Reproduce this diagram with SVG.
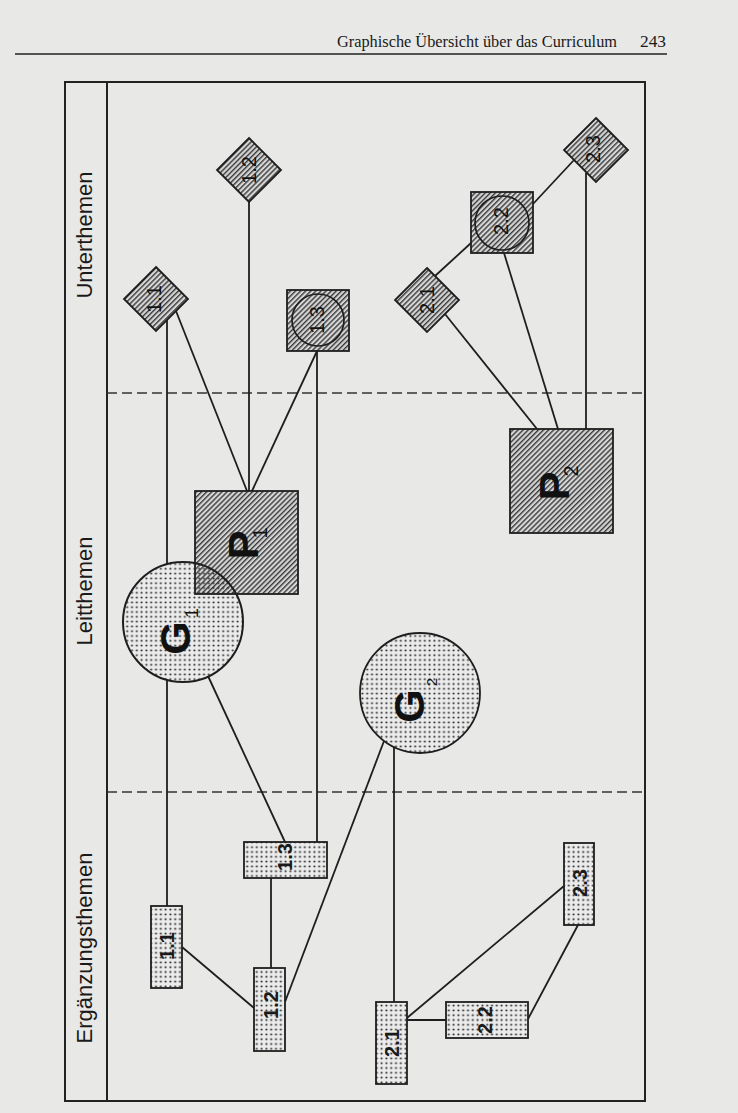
<svg xmlns="http://www.w3.org/2000/svg" width="738" height="1113" viewBox="0 0 738 1113">
<defs>
<pattern id="hatch" patternUnits="userSpaceOnUse" width="3.6" height="3.6" patternTransform="rotate(45)">
<rect width="3.6" height="3.6" fill="#d6d6d6"/>
<rect width="1.4" height="3.6" fill="#3a3a3a"/>
</pattern>
<pattern id="dots" patternUnits="userSpaceOnUse" width="4.8" height="4.8">
<rect width="4.8" height="4.8" fill="#ebebeb"/>
<circle cx="2.4" cy="2.4" r="1.05" fill="#2a2a2a"/>
</pattern>
<pattern id="dotsOnly" patternUnits="userSpaceOnUse" width="4.8" height="4.8">
<circle cx="2.4" cy="2.4" r="1.05" fill="#2a2a2a"/>
</pattern>
<style>
.frame{fill:none;stroke:#222;stroke-width:2}
.dash{fill:none;stroke:#333;stroke-width:1.6;stroke-dasharray:10 5}
.conn{fill:none;stroke:#1e1e1e;stroke-width:1.8}
.hat{fill:url(#hatch);stroke:#1e1e1e;stroke-width:1.8}
.dot{fill:url(#dots);stroke:#1e1e1e;stroke-width:1.8}
.ring{fill:none;stroke:#1e1e1e;stroke-width:1.7}
.col{font-family:"Liberation Sans",Arial,sans-serif;font-size:22px;fill:#1a1a1a;text-anchor:middle}
.lbl{font-family:"Liberation Sans",Arial,sans-serif;font-size:20px;fill:#111;text-anchor:middle}
.lblb{font-family:"Liberation Sans",Arial,sans-serif;font-size:20px;font-weight:bold;fill:#1a1a1a;text-anchor:middle}
.big{font-family:"Liberation Sans",Arial,sans-serif;font-size:43px;font-weight:bold;fill:#111;text-anchor:middle}
.sub{font-family:"Liberation Sans",Arial,sans-serif;font-size:20px;fill:#111;text-anchor:middle}
.hdr{font-family:"Liberation Serif","Times New Roman",serif;font-size:16px;fill:#1a1a1a}
</style>
</defs>
<rect width="738" height="1113" fill="#e8e8e6"/>
<g id="header">
<text class="hdr" x="337" y="47" textLength="280" lengthAdjust="spacingAndGlyphs">Graphische Übersicht über das Curriculum</text>
<text class="hdr" x="640" y="47" textLength="26" lengthAdjust="spacingAndGlyphs">243</text>
<line x1="15" y1="54" x2="667" y2="54" stroke="#222" stroke-width="1.5"/>
</g>
<g id="frame">
<rect class="frame" x="65" y="82" width="580" height="1019"/>
<line class="frame" x1="107" y1="82" x2="107" y2="1101"/>
<line class="dash" x1="107" y1="393" x2="645" y2="393"/>
<line class="dash" x1="107" y1="792" x2="645" y2="792"/>
<text class="col" transform="translate(92,235) rotate(-90)">Unterthemen</text>
<text class="col" transform="translate(92,591) rotate(-90)">Leitthemen</text>
<text class="col" transform="translate(92,948) rotate(-90)">Ergänzungsthemen</text>
</g>
<g id="connectors">
<line class="conn" x1="167" y1="320" x2="167" y2="564"/>
<line class="conn" x1="167" y1="680" x2="167" y2="906"/>
<line class="conn" x1="176" y1="311" x2="247" y2="491"/>
<line class="conn" x1="249" y1="202" x2="249" y2="491"/>
<line class="conn" x1="317" y1="351" x2="252" y2="491"/>
<line class="conn" x1="317" y1="351" x2="317" y2="842"/>
<line class="conn" x1="208" y1="676" x2="285" y2="842"/>
<line class="conn" x1="182" y1="947" x2="254" y2="1008"/>
<line class="conn" x1="271" y1="878" x2="271" y2="968"/>
<line class="conn" x1="285" y1="1002" x2="384" y2="741"/>
<line class="conn" x1="394" y1="747" x2="394" y2="1002"/>
<line class="conn" x1="407" y1="1020" x2="446" y2="1020"/>
<line class="conn" x1="407" y1="1018" x2="564" y2="886"/>
<line class="conn" x1="528" y1="1019" x2="578" y2="925"/>
<line class="conn" x1="445" y1="314" x2="537" y2="429"/>
<line class="conn" x1="504" y1="253" x2="558" y2="429"/>
<line class="conn" x1="586" y1="173" x2="586" y2="429"/>
<line class="conn" x1="435" y1="276" x2="471" y2="243"/>
<line class="conn" x1="533" y1="204" x2="574" y2="160"/>
</g>
<g id="u11">
<polygon class="hat" points="156,267 188,299 156,331 124,299"/>
<text class="lbl" transform="translate(161,299) rotate(-90)">1.1</text>
</g>
<g id="u12">
<polygon class="hat" points="249,138 281,170 249,202 217,170"/>
<text class="lbl" transform="translate(256,170) rotate(-90)">1.2</text>
</g>
<g id="u13">
<rect class="hat" x="287" y="290" width="62" height="61"/>
<circle class="ring" cx="318" cy="320" r="26"/>
<text class="lbl" transform="translate(324,320) rotate(-90)">1.3</text>
</g>
<g id="u21">
<polygon class="hat" points="427,268 459,300 427,332 395,300"/>
<text class="lbl" transform="translate(434,300) rotate(-90)">2.1</text>
</g>
<g id="u22">
<rect class="hat" x="471" y="192" width="62" height="61"/>
<circle class="ring" cx="502" cy="223" r="27"/>
<text class="lbl" transform="translate(508,221) rotate(-90)">2.2</text>
</g>
<g id="u23">
<polygon class="hat" points="596,118 628,150 596,182 564,150"/>
<text class="lbl" transform="translate(600,149) rotate(-90)">2.3</text>
</g>
<g id="G1">
<circle cx="183" cy="622" r="60" fill="#ebebeb"/>
</g>
<g id="P1">
<rect class="hat" x="195" y="491" width="103" height="103"/>
<text class="big" transform="translate(258,545) rotate(-90)">P</text>
<text class="sub" transform="translate(267,533) rotate(-90)">1</text>
</g>
<g id="G1-top">
<circle cx="183" cy="622" r="60" fill="url(#dotsOnly)" stroke="#1e1e1e" stroke-width="2"/>
<text class="big" transform="translate(190,638) rotate(-90)">G</text>
<text class="sub" style="font-size:18px" transform="translate(198,613) rotate(-90)">1</text>
</g>
<g id="P2">
<rect class="hat" x="510" y="429" width="103" height="104"/>
<text class="big" transform="translate(569,486) rotate(-90)">P</text>
<text class="sub" transform="translate(578,471) rotate(-90)">2</text>
</g>
<g id="G2">
<circle class="dot" cx="420" cy="693" r="60" stroke-width="2"/>
<text class="big" transform="translate(424,706) rotate(-90)">G</text>
<text class="sub" style="font-size:15px" transform="translate(437,682) rotate(-90)">2</text>
</g>
<g id="e11">
<rect class="dot" x="151" y="906" width="31" height="82"/>
<text class="lblb" transform="translate(174,946) rotate(-90)">1.1</text>
</g>
<g id="e12">
<rect class="dot" x="254" y="968" width="31" height="83"/>
<text class="lblb" transform="translate(278,1005) rotate(-90)">1.2</text>
</g>
<g id="e13">
<rect class="dot" x="244" y="842" width="83" height="36"/>
<text class="lblb" transform="translate(292,857) rotate(-90)">1.3</text>
</g>
<g id="e21">
<rect class="dot" x="376" y="1002" width="31" height="82"/>
<text class="lblb" transform="translate(399,1043) rotate(-90)">2.1</text>
</g>
<g id="e22">
<rect class="dot" x="446" y="1002" width="82" height="36"/>
<text class="lblb" transform="translate(492,1020) rotate(-90)">2.2</text>
</g>
<g id="e23">
<rect class="dot" x="564" y="843" width="30" height="82"/>
<text class="lblb" transform="translate(587,883) rotate(-90)">2.3</text>
</g>
</svg>
